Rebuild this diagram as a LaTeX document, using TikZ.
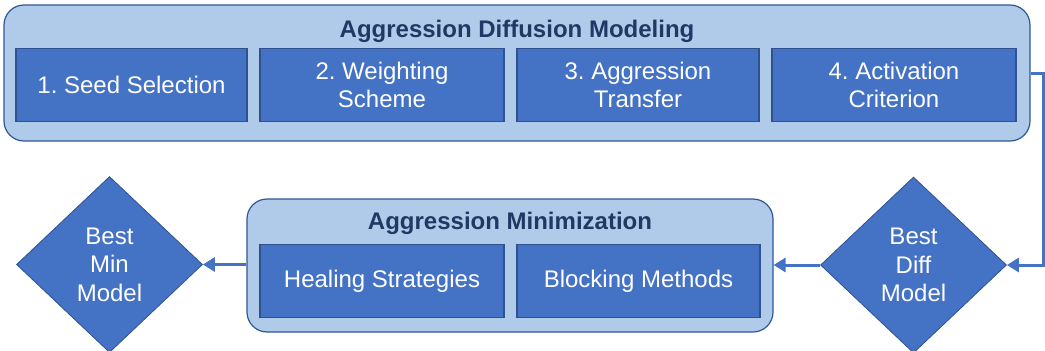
\documentclass[tikz,border=0pt]{standalone}
\usepackage{fontspec}
\setmainfont{Liberation Sans}
\usetikzlibrary{shapes.geometric,arrows.meta}
\definecolor{boxblue}{HTML}{4472C4}
\definecolor{boxedge}{HTML}{2F528F}
\definecolor{panelblue}{HTML}{AFCBE9}
\definecolor{paneledge}{HTML}{2F5597}
\definecolor{titlenavy}{HTML}{1F3864}
\frenchspacing
\begin{document}
\begin{tikzpicture}[x=1pt,y=-1pt,
  panel/.style={draw=paneledge,fill=panelblue,line width=1.2pt,rounded corners=20pt,inner sep=0pt},
  paneltitle/.style={font=\fontsize{24}{28}\selectfont\bfseries,text=titlenavy},
  stage/.style={draw=boxedge,fill=boxblue,line width=1.2pt,text=white,align=center,inner sep=0pt,
    minimum height=73pt,font=\fontsize{24}{28.5}\selectfont},
  decision/.style={diamond,draw=boxedge,fill=boxblue,line width=0.8pt,text=white,align=center,inner sep=0pt,
    minimum width=186pt,minimum height=176pt,font=\fontsize{24}{28.5}\selectfont},
  flow/.style={draw=boxblue,line width=3pt,-{Triangle[length=12pt,width=14pt]}}]
\useasboundingbox (0,0) rectangle (1045,351);
\node[panel,minimum width=1026pt,minimum height=136pt] (diff) at (517,73) {};
\node[paneltitle] (difftitle) at (517,31) {Aggression Diffusion Modeling};
\node[stage,minimum width=231pt] (seed) at (131.5,85) {1. Seed Selection};
\node[stage,minimum width=244pt] (weight) at (382,85) {2. Weighting\\Scheme};
\node[stage,minimum width=242pt] (transfer) at (638,85) {3. Aggression\\Transfer};
\node[stage,minimum width=244pt] (activation) at (894,85) {4. Activation\\Criterion};
\node[panel,minimum width=526pt,minimum height=133pt] (mini) at (510,265.5) {};
\node[paneltitle] (minititle) at (510,223) {Aggression Minimization};
\node[stage,minimum width=244pt] (healing) at (382,281) {Healing Strategies};
\node[stage,minimum width=243pt] (blocking) at (638.5,281) {Blocking Methods};
\node[decision] (diffbest) at (913.5,265) {Best\\Diff\\Model};
\node[decision] (minbest) at (109.5,264.5) {Best\\Min\\Model};
\draw[flow] (diff.east) -- ++(13,0) |- (diffbest.east);
\draw[flow] (diffbest.west) -- (diffbest.west -| mini.east);
\draw[flow] (mini.west |- minbest.east) -- (minbest.east);
\end{tikzpicture}
\end{document}
